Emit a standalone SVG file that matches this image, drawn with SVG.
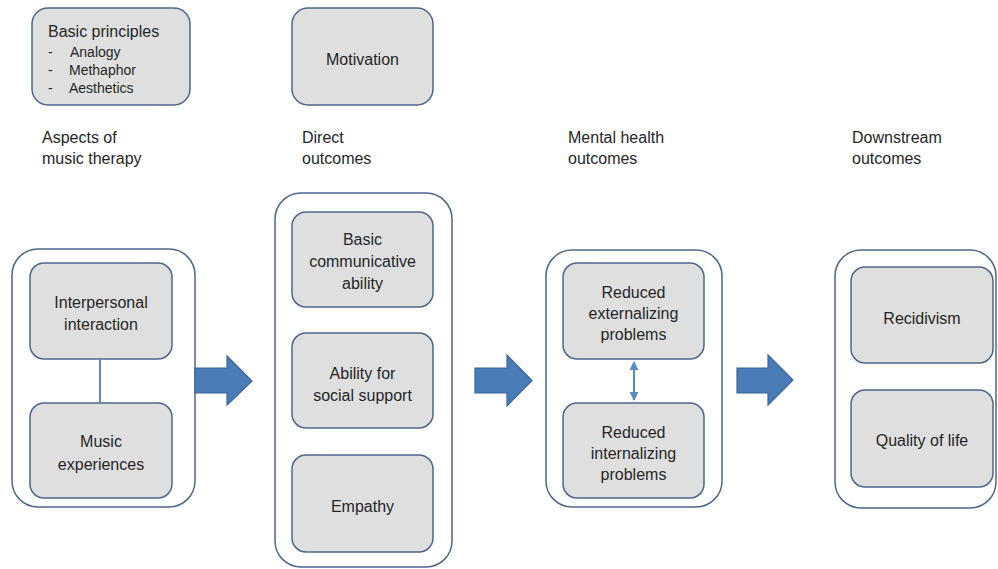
<svg xmlns="http://www.w3.org/2000/svg" width="998" height="569" viewBox="0 0 998 569">
<style>
.box{fill:#dfdfdf;stroke:#4e6688;stroke-width:1.5}
.outer{fill:#ffffff;stroke:#4e6688;stroke-width:1.5}
.t{font-family:"Liberation Sans",Arial,sans-serif;font-size:16px;fill:#262626}
.c{text-anchor:middle}
.s{font-size:14px}
.arrow{fill:#4a7cb8;stroke:#3b659a;stroke-width:1.2}
.line{stroke:#5a8ac4;stroke-width:2;fill:none}
</style>
<defs>
<marker id="ah" viewBox="0 0 10 10" refX="9" refY="5" markerWidth="4.5" markerHeight="4.5" orient="auto-start-reverse">
<path d="M0,0 L10,5 L0,10 z" fill="#5a8ac4"/>
</marker>
</defs>
<rect width="998" height="569" fill="#ffffff"/>

<g id="basic-principles">
<rect class="box" x="32" y="8" width="158" height="97" rx="16"/>
<text class="t" x="48" y="37">Basic principles</text>
<text class="t s" x="48" y="57">-</text><text class="t s" x="70" y="57">Analogy</text>
<text class="t s" x="48" y="75">-</text><text class="t s" x="69" y="75">Methaphor</text>
<text class="t s" x="48" y="93">-</text><text class="t s" x="69" y="93">Aesthetics</text>
</g>
<g id="motivation">
<rect class="box" x="292" y="8" width="141" height="97" rx="16"/>
<text class="t c" x="362.5" y="65">Motivation</text>
</g>

<g id="labels">
<text class="t" x="42" y="143">Aspects of</text>
<text class="t" x="42" y="164">music therapy</text>
<text class="t" x="302" y="143">Direct</text>
<text class="t" x="302" y="164">outcomes</text>
<text class="t" x="568" y="143">Mental health</text>
<text class="t" x="568" y="164">outcomes</text>
<text class="t" x="852" y="143">Downstream</text>
<text class="t" x="852" y="164">outcomes</text>
</g>

<g id="aspects">
<rect class="outer" x="12" y="249" width="183" height="258" rx="26"/>
</g>
<g id="interpersonal-interaction">
<rect class="box" x="30" y="263" width="142" height="96" rx="14"/>
<text class="t c" x="101" y="308">Interpersonal</text>
<text class="t c" x="101" y="330">interaction</text>
</g>
<g id="music-experiences">
<rect class="box" x="30" y="403" width="142" height="95" rx="14"/>
<text class="t c" x="101" y="447">Music</text>
<text class="t c" x="101" y="470">experiences</text>
</g>

<g id="direct-outcomes">
<rect class="outer" x="275" y="193" width="177" height="374" rx="26"/>
</g>
<g id="basic-communicative-ability">
<rect class="box" x="292" y="212" width="141" height="95" rx="14"/>
<text class="t c" x="362.5" y="245">Basic</text>
<text class="t c" x="362.5" y="267">communicative</text>
<text class="t c" x="362.5" y="289">ability</text>
</g>
<g id="ability-social-support">
<rect class="box" x="292" y="333" width="141" height="95" rx="14"/>
<text class="t c" x="362.5" y="379">Ability for</text>
<text class="t c" x="362.5" y="401">social support</text>
</g>
<g id="empathy">
<rect class="box" x="292" y="455" width="141" height="97" rx="14"/>
<text class="t c" x="362.5" y="512">Empathy</text>
</g>

<g id="mental-health-outcomes">
<rect class="outer" x="546" y="250" width="176" height="257" rx="26"/>
</g>
<g id="reduced-externalizing">
<rect class="box" x="563" y="263" width="141" height="96" rx="14"/>
<text class="t c" x="633.5" y="298">Reduced</text>
<text class="t c" x="633.5" y="319">externalizing</text>
<text class="t c" x="633.5" y="340">problems</text>
</g>
<g id="reduced-internalizing">
<rect class="box" x="563" y="403" width="141" height="95" rx="14"/>
<text class="t c" x="633.5" y="438">Reduced</text>
<text class="t c" x="633.5" y="459">internalizing</text>
<text class="t c" x="633.5" y="480">problems</text>
</g>

<g id="downstream-outcomes">
<rect class="outer" x="835" y="250" width="161" height="258" rx="26"/>
</g>
<g id="recidivism">
<rect class="box" x="851" y="267" width="142" height="96" rx="14"/>
<text class="t c" x="922" y="324">Recidivism</text>
</g>
<g id="quality-of-life">
<rect class="box" x="851" y="390" width="142" height="97" rx="14"/>
<text class="t c" x="922" y="446">Quality of life</text>
</g>

<g id="connectors">
<line class="line" x1="100" y1="359" x2="100" y2="403"/>
<line class="line" x1="634" y1="362" x2="634" y2="400" marker-start="url(#ah)" marker-end="url(#ah)"/>
<path class="arrow" d="M195,368 H227 V356 L252,381 L227,405 V393 H195 Z"/>
<path class="arrow" d="M475,368 H507 V355 L532,380.5 L507,406 V393 H475 Z"/>
<path class="arrow" d="M737,368 H768 V355 L793,380 L768,405 V393 H737 Z"/>
</g>
</svg>
